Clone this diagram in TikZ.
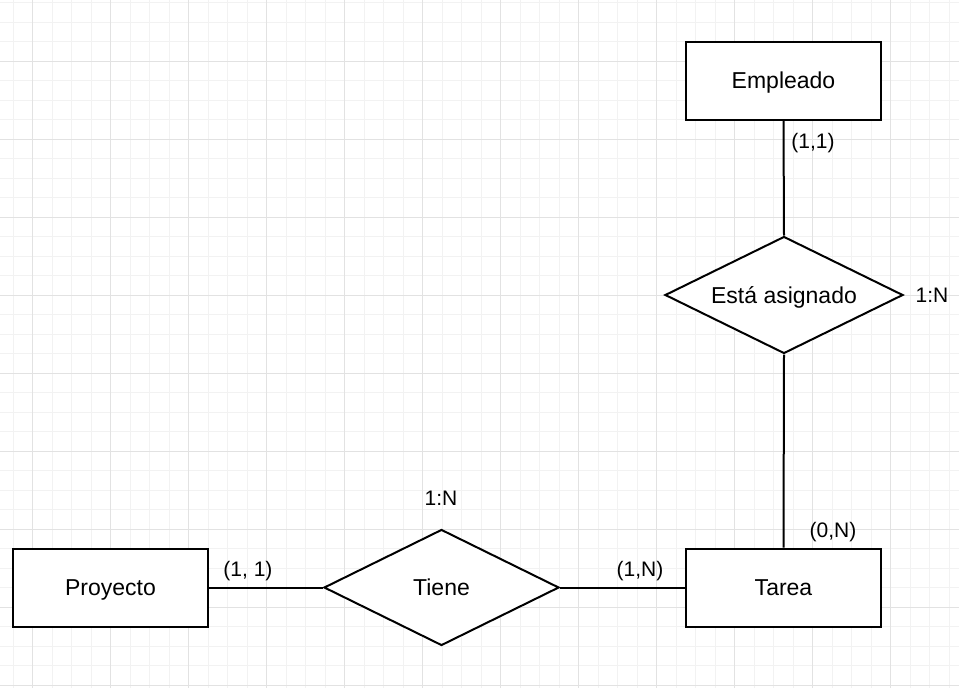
\documentclass[tikz,border=0pt]{standalone}
\usepackage{fontspec}
\setmainfont{Liberation Sans}
\usetikzlibrary{shapes.geometric}
\definecolor{gridminor}{RGB}{242,242,242}
\definecolor{gridmajor}{RGB}{226,226,226}
\tikzset{
  entity/.style={draw=black, line width=2pt, fill=white, rectangle, minimum width=195pt, minimum height=78pt, inner sep=0pt, text height=16.5pt, text depth=0pt, font=\fontsize{23}{27}\selectfont},
  relation/.style={draw=black, line width=2pt, fill=white, diamond, aspect=2.03, inner sep=0pt, text height=16.5pt, text depth=0pt, font=\fontsize{23}{27}\selectfont},
  card/.style={inner sep=0pt, text height=15pt, text depth=0pt, font=\fontsize{21}{25}\selectfont},
  link/.style={draw=black, line width=2pt},
}
\begin{document}
\begin{tikzpicture}[x=1pt, y=-1pt]
\useasboundingbox (0,0) rectangle (959,688);
\fill[white] (0,0) rectangle (959,688);
% grid
\foreach \i in {0,...,49} {
  \pgfmathsetmacro{\gx}{13+19.5*\i}
  \draw[gridminor, line width=1pt] (\gx,0) -- (\gx,688);
}
\foreach \i in {0,...,35} {
  \pgfmathsetmacro{\gy}{2.5+19.5*\i}
  \draw[gridminor, line width=1pt] (0,\gy) -- (959,\gy);
}
\foreach \i in {0,...,12} {
  \pgfmathsetmacro{\gx}{32.5+78*\i}
  \draw[gridmajor, line width=1pt] (\gx,0) -- (\gx,688);
}
\foreach \i in {0,...,8} {
  \pgfmathsetmacro{\gy}{61.5+78*\i}
  \draw[gridmajor, line width=1pt] (0,\gy) -- (959,\gy);
}
% nodes
\node[entity] (emp) at (783.5,80.5) {Empleado};
\node[relation, minimum width=238pt, minimum height=117pt] (asig) at (784,295) {Está asignado};
\node[entity] (tarea) at (783.5,587.5) {Tarea};
\node[entity] (proy) at (110.5,587.5) {Proyecto};
\node[relation, minimum width=235pt, minimum height=116pt] (tiene) at (441.5,587.5) {Tiene};
% connectors
\draw[link] (emp.south) -- (asig.north);
\draw[link] (asig.south) -- (tarea.north);
\draw[link] (proy.east) -- (tiene.west);
\draw[link] (tiene.east) -- (tarea.west);
% cardinality labels
\node[card] (c1) at (813,141) {(1,1)};
\node[card] (c2) at (932,295) {1:N};
\node[card] (c3) at (833,530) {(0,N)};
\node[card] (c4) at (441,498) {1:N};
\node[card] (c5) at (248,569) {(1, 1)};
\node[card] (c6) at (640,569) {(1,N)};
\end{tikzpicture}
\end{document}
